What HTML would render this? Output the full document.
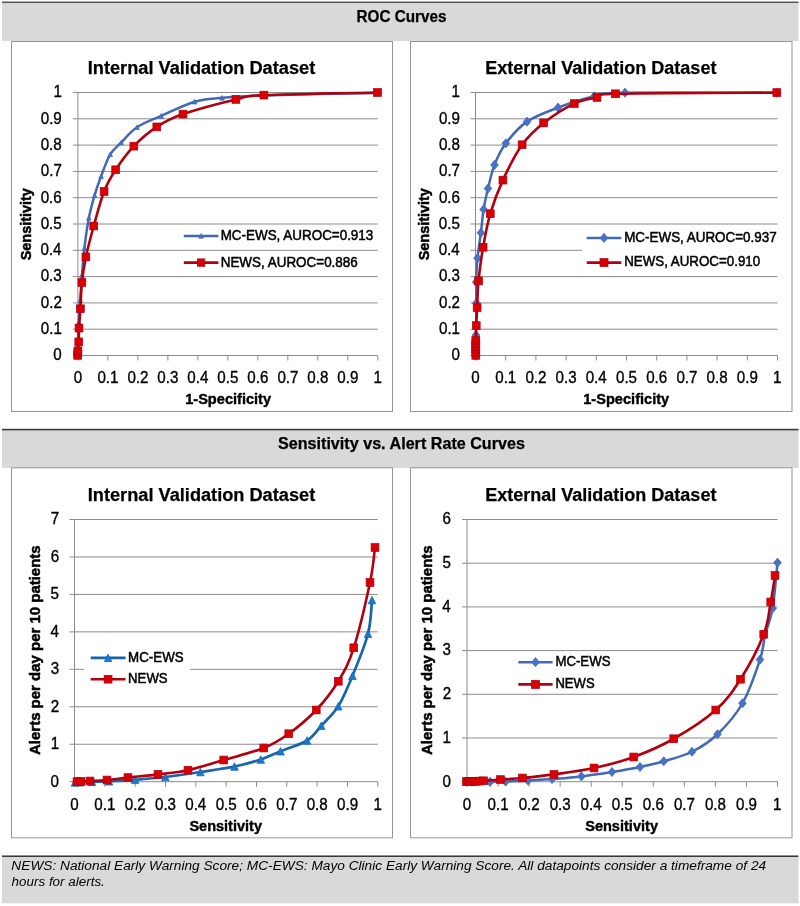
<!DOCTYPE html>
<html lang="en"><head><meta charset="utf-8"><title>ROC and Sensitivity vs. Alert Rate Curves</title>
<style>
html,body{margin:0;padding:0;background:#fff;}
body{width:800px;height:906px;overflow:hidden;font-family:"Liberation Sans",sans-serif;}
svg{display:block;will-change:transform;}
text{font-family:"Liberation Sans",sans-serif;}
</style></head><body>
<svg width="800" height="906" viewBox="0 0 800 906" font-family="Liberation Sans, sans-serif">
<rect x="0" y="0" width="800" height="906" fill="#fff"/>
<rect x="2" y="2.6" width="796.5" height="38.4" fill="#d9d9d9"/>
<rect x="2" y="1.6" width="796.5" height="1.25" fill="#383838"/>
<rect x="2" y="430" width="796.5" height="38" fill="#d9d9d9"/>
<rect x="2" y="428.8" width="796.5" height="1.55" fill="#383838"/>
<rect x="2" y="856.6" width="796.5" height="46.69999999999993" fill="#d9d9d9"/>
<rect x="2" y="855.45" width="796.5" height="1.55" fill="#383838"/>
<rect x="11.5" y="41.5" width="381.0" height="370.0" fill="#fff" stroke="#969696" stroke-width="1"/>
<rect x="410.5" y="41.5" width="381.5" height="370.0" fill="#fff" stroke="#969696" stroke-width="1"/>
<rect x="11.5" y="467.8" width="381.0" height="369.99999999999994" fill="#fff" stroke="#969696" stroke-width="1"/>
<rect x="410.5" y="467.8" width="381.5" height="369.99999999999994" fill="#fff" stroke="#969696" stroke-width="1"/>
<text x="356.58" y="21.50" font-size="16.9" font-weight="bold" stroke="#000" stroke-width="0.25" textLength="89.95" lengthAdjust="spacingAndGlyphs" fill="#000" >ROC Curves</text>
<text x="277.94" y="449.00" font-size="16.9" font-weight="bold" stroke="#000" stroke-width="0.25" textLength="247.02" lengthAdjust="spacingAndGlyphs" fill="#000" >Sensitivity vs. Alert Rate Curves</text>
<line x1="72.90" y1="355.50" x2="377.80" y2="355.50" stroke="#8c8c8c" stroke-width="1"/>
<line x1="72.90" y1="329.20" x2="377.80" y2="329.20" stroke="#8c8c8c" stroke-width="1"/>
<line x1="72.90" y1="302.90" x2="377.80" y2="302.90" stroke="#8c8c8c" stroke-width="1"/>
<line x1="72.90" y1="276.60" x2="377.80" y2="276.60" stroke="#8c8c8c" stroke-width="1"/>
<line x1="72.90" y1="250.30" x2="377.80" y2="250.30" stroke="#8c8c8c" stroke-width="1"/>
<line x1="72.90" y1="224.00" x2="377.80" y2="224.00" stroke="#8c8c8c" stroke-width="1"/>
<line x1="72.90" y1="197.70" x2="377.80" y2="197.70" stroke="#8c8c8c" stroke-width="1"/>
<line x1="72.90" y1="171.40" x2="377.80" y2="171.40" stroke="#8c8c8c" stroke-width="1"/>
<line x1="72.90" y1="145.10" x2="377.80" y2="145.10" stroke="#8c8c8c" stroke-width="1"/>
<line x1="72.90" y1="118.80" x2="377.80" y2="118.80" stroke="#8c8c8c" stroke-width="1"/>
<line x1="72.90" y1="92.50" x2="377.80" y2="92.50" stroke="#8c8c8c" stroke-width="1"/>
<line x1="77.90" y1="92.50" x2="77.90" y2="355.50" stroke="#8c8c8c" stroke-width="1"/>
<line x1="77.90" y1="355.50" x2="77.90" y2="360.50" stroke="#8c8c8c" stroke-width="1"/>
<line x1="107.89" y1="355.50" x2="107.89" y2="360.50" stroke="#8c8c8c" stroke-width="1"/>
<line x1="137.88" y1="355.50" x2="137.88" y2="360.50" stroke="#8c8c8c" stroke-width="1"/>
<line x1="167.87" y1="355.50" x2="167.87" y2="360.50" stroke="#8c8c8c" stroke-width="1"/>
<line x1="197.86" y1="355.50" x2="197.86" y2="360.50" stroke="#8c8c8c" stroke-width="1"/>
<line x1="227.85" y1="355.50" x2="227.85" y2="360.50" stroke="#8c8c8c" stroke-width="1"/>
<line x1="257.84" y1="355.50" x2="257.84" y2="360.50" stroke="#8c8c8c" stroke-width="1"/>
<line x1="287.83" y1="355.50" x2="287.83" y2="360.50" stroke="#8c8c8c" stroke-width="1"/>
<line x1="317.82" y1="355.50" x2="317.82" y2="360.50" stroke="#8c8c8c" stroke-width="1"/>
<line x1="347.81" y1="355.50" x2="347.81" y2="360.50" stroke="#8c8c8c" stroke-width="1"/>
<line x1="377.80" y1="355.50" x2="377.80" y2="360.50" stroke="#8c8c8c" stroke-width="1"/>
<text x="53.26" y="360.30" font-size="16.3" stroke="#000" stroke-width="0.35" textLength="8.43" lengthAdjust="spacingAndGlyphs" fill="#000" >0</text>
<text x="40.77" y="334.00" font-size="16.3" stroke="#000" stroke-width="0.35" textLength="21.07" lengthAdjust="spacingAndGlyphs" fill="#000" >0.1</text>
<text x="40.79" y="307.70" font-size="16.3" stroke="#000" stroke-width="0.35" textLength="21.07" lengthAdjust="spacingAndGlyphs" fill="#000" >0.2</text>
<text x="40.69" y="281.40" font-size="16.3" stroke="#000" stroke-width="0.35" textLength="21.07" lengthAdjust="spacingAndGlyphs" fill="#000" >0.3</text>
<text x="40.47" y="255.10" font-size="16.3" stroke="#000" stroke-width="0.35" textLength="21.07" lengthAdjust="spacingAndGlyphs" fill="#000" >0.4</text>
<text x="40.66" y="228.80" font-size="16.3" stroke="#000" stroke-width="0.35" textLength="21.07" lengthAdjust="spacingAndGlyphs" fill="#000" >0.5</text>
<text x="40.69" y="202.50" font-size="16.3" stroke="#000" stroke-width="0.35" textLength="21.07" lengthAdjust="spacingAndGlyphs" fill="#000" >0.6</text>
<text x="40.79" y="176.20" font-size="16.3" stroke="#000" stroke-width="0.35" textLength="21.07" lengthAdjust="spacingAndGlyphs" fill="#000" >0.7</text>
<text x="40.69" y="149.90" font-size="16.3" stroke="#000" stroke-width="0.35" textLength="21.07" lengthAdjust="spacingAndGlyphs" fill="#000" >0.8</text>
<text x="40.74" y="123.60" font-size="16.3" stroke="#000" stroke-width="0.35" textLength="21.07" lengthAdjust="spacingAndGlyphs" fill="#000" >0.9</text>
<text x="53.41" y="97.30" font-size="16.3" stroke="#000" stroke-width="0.35" textLength="8.43" lengthAdjust="spacingAndGlyphs" fill="#000" >1</text>
<text x="73.68" y="382.60" font-size="16.3" stroke="#000" stroke-width="0.35" textLength="8.43" lengthAdjust="spacingAndGlyphs" fill="#000" >0</text>
<text x="97.43" y="382.60" font-size="16.3" stroke="#000" stroke-width="0.35" textLength="21.07" lengthAdjust="spacingAndGlyphs" fill="#000" >0.1</text>
<text x="127.43" y="382.60" font-size="16.3" stroke="#000" stroke-width="0.35" textLength="21.07" lengthAdjust="spacingAndGlyphs" fill="#000" >0.2</text>
<text x="157.37" y="382.60" font-size="16.3" stroke="#000" stroke-width="0.35" textLength="21.07" lengthAdjust="spacingAndGlyphs" fill="#000" >0.3</text>
<text x="187.25" y="382.60" font-size="16.3" stroke="#000" stroke-width="0.35" textLength="21.07" lengthAdjust="spacingAndGlyphs" fill="#000" >0.4</text>
<text x="217.34" y="382.60" font-size="16.3" stroke="#000" stroke-width="0.35" textLength="21.07" lengthAdjust="spacingAndGlyphs" fill="#000" >0.5</text>
<text x="247.34" y="382.60" font-size="16.3" stroke="#000" stroke-width="0.35" textLength="21.07" lengthAdjust="spacingAndGlyphs" fill="#000" >0.6</text>
<text x="277.38" y="382.60" font-size="16.3" stroke="#000" stroke-width="0.35" textLength="21.07" lengthAdjust="spacingAndGlyphs" fill="#000" >0.7</text>
<text x="307.32" y="382.60" font-size="16.3" stroke="#000" stroke-width="0.35" textLength="21.07" lengthAdjust="spacingAndGlyphs" fill="#000" >0.8</text>
<text x="337.34" y="382.60" font-size="16.3" stroke="#000" stroke-width="0.35" textLength="21.07" lengthAdjust="spacingAndGlyphs" fill="#000" >0.9</text>
<text x="373.38" y="382.60" font-size="16.3" stroke="#000" stroke-width="0.35" textLength="8.43" lengthAdjust="spacingAndGlyphs" fill="#000" >1</text>
<text x="87.79" y="73.90" font-size="18.7" font-weight="bold" stroke="#000" stroke-width="0.25" textLength="227.43" lengthAdjust="spacingAndGlyphs" fill="#000" >Internal Validation Dataset</text>
<text x="185.18" y="403.70" font-size="15.0" font-weight="bold" stroke="#000" stroke-width="0.4" textLength="85.90" lengthAdjust="spacingAndGlyphs" fill="#000" >1-Specificity</text>
<g transform="translate(30.7,259.9) rotate(-90)">
<text x="-0.42" y="0.00" font-size="15.4" font-weight="bold" stroke="#000" stroke-width="0.5" textLength="72.19" lengthAdjust="spacingAndGlyphs" fill="#000" >Sensitivity</text>
</g>
<path d="M77.50,355.20 C77.58,352.67 77.78,345.53 78.00,340.00 C78.22,334.47 78.43,328.67 78.80,322.00 C79.17,315.33 79.67,307.83 80.20,300.00 C80.73,292.17 81.30,283.65 82.00,275.00 C82.70,266.35 83.25,257.63 84.40,248.10 C85.55,238.57 87.19,226.62 88.90,217.80 C90.61,208.98 92.62,202.12 94.65,195.20 C96.68,188.27 98.51,183.05 101.10,176.25 C103.69,169.45 106.84,160.03 110.20,154.40 C113.56,148.78 116.78,147.03 121.25,142.50 C125.72,137.97 130.34,131.68 137.00,127.25 C143.66,122.82 151.60,120.16 161.20,115.90 C170.80,111.64 184.47,104.71 194.60,101.70 C204.73,98.69 210.60,98.90 222.00,97.85 C233.40,96.80 237.08,96.23 263.00,95.40 C288.92,94.58 358.42,93.32 377.50,92.90" fill="none" stroke="#4169b8" stroke-width="2.5" stroke-linejoin="round" stroke-linecap="round"/>
<path d="M77.50,352.90 L79.80,357.50 L75.20,357.50Z" fill="#4673c6" stroke="#4169b8" stroke-width="0.7"/>
<path d="M78.00,337.70 L80.30,342.30 L75.70,342.30Z" fill="#4673c6" stroke="#4169b8" stroke-width="0.7"/>
<path d="M78.80,319.70 L81.10,324.30 L76.50,324.30Z" fill="#4673c6" stroke="#4169b8" stroke-width="0.7"/>
<path d="M80.20,297.70 L82.50,302.30 L77.90,302.30Z" fill="#4673c6" stroke="#4169b8" stroke-width="0.7"/>
<path d="M82.00,272.70 L84.30,277.30 L79.70,277.30Z" fill="#4673c6" stroke="#4169b8" stroke-width="0.7"/>
<path d="M84.40,245.80 L86.70,250.40 L82.10,250.40Z" fill="#4673c6" stroke="#4169b8" stroke-width="0.7"/>
<path d="M88.90,215.50 L91.20,220.10 L86.60,220.10Z" fill="#4673c6" stroke="#4169b8" stroke-width="0.7"/>
<path d="M94.65,192.90 L96.95,197.50 L92.35,197.50Z" fill="#4673c6" stroke="#4169b8" stroke-width="0.7"/>
<path d="M101.10,173.95 L103.40,178.55 L98.80,178.55Z" fill="#4673c6" stroke="#4169b8" stroke-width="0.7"/>
<path d="M110.20,152.10 L112.50,156.70 L107.90,156.70Z" fill="#4673c6" stroke="#4169b8" stroke-width="0.7"/>
<path d="M121.25,140.20 L123.55,144.80 L118.95,144.80Z" fill="#4673c6" stroke="#4169b8" stroke-width="0.7"/>
<path d="M137.00,124.95 L139.30,129.55 L134.70,129.55Z" fill="#4673c6" stroke="#4169b8" stroke-width="0.7"/>
<path d="M161.20,113.60 L163.50,118.20 L158.90,118.20Z" fill="#4673c6" stroke="#4169b8" stroke-width="0.7"/>
<path d="M194.60,99.40 L196.90,104.00 L192.30,104.00Z" fill="#4673c6" stroke="#4169b8" stroke-width="0.7"/>
<path d="M222.00,95.55 L224.30,100.15 L219.70,100.15Z" fill="#4673c6" stroke="#4169b8" stroke-width="0.7"/>
<path d="M263.00,93.10 L265.30,97.70 L260.70,97.70Z" fill="#4673c6" stroke="#4169b8" stroke-width="0.7"/>
<path d="M377.50,90.60 L379.80,95.20 L375.20,95.20Z" fill="#4673c6" stroke="#4169b8" stroke-width="0.7"/>
<path d="M77.70,355.40 C77.72,355.03 77.77,353.97 77.80,353.20 C77.83,352.43 77.74,352.68 77.90,350.80 C78.06,348.92 78.57,345.68 78.75,341.90 C78.93,338.12 78.72,333.62 79.00,328.10 C79.28,322.58 79.92,316.35 80.40,308.75 C80.88,301.15 80.98,291.14 81.90,282.50 C82.82,273.86 83.93,266.32 85.90,256.90 C87.88,247.48 90.72,236.90 93.75,226.00 C96.78,215.10 100.45,200.87 104.10,191.50 C107.75,182.13 110.69,177.36 115.65,169.80 C120.61,162.24 126.99,153.30 133.85,146.15 C140.71,139.00 148.61,132.24 156.80,126.90 C164.99,121.56 169.82,118.68 183.00,114.10 C196.18,109.52 222.42,102.57 235.90,99.40 C249.38,96.23 240.30,96.25 263.90,95.10 C287.50,93.95 358.57,92.93 377.50,92.50" fill="none" stroke="#b2000e" stroke-width="2.6" stroke-linejoin="round" stroke-linecap="round"/>
<rect x="73.80" y="351.50" width="7.8" height="7.8" fill="#d80004" stroke="#b2000e" stroke-width="0.7"/>
<rect x="73.90" y="349.30" width="7.8" height="7.8" fill="#d80004" stroke="#b2000e" stroke-width="0.7"/>
<rect x="74.00" y="346.90" width="7.8" height="7.8" fill="#d80004" stroke="#b2000e" stroke-width="0.7"/>
<rect x="74.85" y="338.00" width="7.8" height="7.8" fill="#d80004" stroke="#b2000e" stroke-width="0.7"/>
<rect x="75.10" y="324.20" width="7.8" height="7.8" fill="#d80004" stroke="#b2000e" stroke-width="0.7"/>
<rect x="76.50" y="304.85" width="7.8" height="7.8" fill="#d80004" stroke="#b2000e" stroke-width="0.7"/>
<rect x="78.00" y="278.60" width="7.8" height="7.8" fill="#d80004" stroke="#b2000e" stroke-width="0.7"/>
<rect x="82.00" y="253.00" width="7.8" height="7.8" fill="#d80004" stroke="#b2000e" stroke-width="0.7"/>
<rect x="89.85" y="222.10" width="7.8" height="7.8" fill="#d80004" stroke="#b2000e" stroke-width="0.7"/>
<rect x="100.20" y="187.60" width="7.8" height="7.8" fill="#d80004" stroke="#b2000e" stroke-width="0.7"/>
<rect x="111.75" y="165.90" width="7.8" height="7.8" fill="#d80004" stroke="#b2000e" stroke-width="0.7"/>
<rect x="129.95" y="142.25" width="7.8" height="7.8" fill="#d80004" stroke="#b2000e" stroke-width="0.7"/>
<rect x="152.90" y="123.00" width="7.8" height="7.8" fill="#d80004" stroke="#b2000e" stroke-width="0.7"/>
<rect x="179.10" y="110.20" width="7.8" height="7.8" fill="#d80004" stroke="#b2000e" stroke-width="0.7"/>
<rect x="232.00" y="95.50" width="7.8" height="7.8" fill="#d80004" stroke="#b2000e" stroke-width="0.7"/>
<rect x="260.00" y="91.20" width="7.8" height="7.8" fill="#d80004" stroke="#b2000e" stroke-width="0.7"/>
<rect x="373.60" y="88.60" width="7.8" height="7.8" fill="#d80004" stroke="#b2000e" stroke-width="0.7"/>
<line x1="183.8" y1="235.9" x2="218.4" y2="235.9" stroke="#4169b8" stroke-width="2.5"/>
<path d="M201.10,233.60 L203.40,238.20 L198.80,238.20Z" fill="#4673c6" stroke="#4169b8" stroke-width="0.7"/>
<line x1="183.8" y1="262.6" x2="218.4" y2="262.6" stroke="#b2000e" stroke-width="2.6"/>
<rect x="197.40" y="258.90" width="7.4" height="7.4" fill="#d80004" stroke="#b2000e" stroke-width="0.7"/>
<text x="220.70" y="239.90" font-size="14.2" stroke="#000" stroke-width="0.5" textLength="152.58" lengthAdjust="spacingAndGlyphs" fill="#000" >MC-EWS, AUROC=0.913</text>
<text x="220.70" y="266.80" font-size="14.2" stroke="#000" stroke-width="0.5" textLength="137.08" lengthAdjust="spacingAndGlyphs" fill="#000" >NEWS, AUROC=0.886</text>
<line x1="470.50" y1="355.50" x2="777.50" y2="355.50" stroke="#8c8c8c" stroke-width="1"/>
<line x1="470.50" y1="329.20" x2="777.50" y2="329.20" stroke="#8c8c8c" stroke-width="1"/>
<line x1="470.50" y1="302.90" x2="777.50" y2="302.90" stroke="#8c8c8c" stroke-width="1"/>
<line x1="470.50" y1="276.60" x2="777.50" y2="276.60" stroke="#8c8c8c" stroke-width="1"/>
<line x1="470.50" y1="250.30" x2="777.50" y2="250.30" stroke="#8c8c8c" stroke-width="1"/>
<line x1="470.50" y1="224.00" x2="777.50" y2="224.00" stroke="#8c8c8c" stroke-width="1"/>
<line x1="470.50" y1="197.70" x2="777.50" y2="197.70" stroke="#8c8c8c" stroke-width="1"/>
<line x1="470.50" y1="171.40" x2="777.50" y2="171.40" stroke="#8c8c8c" stroke-width="1"/>
<line x1="470.50" y1="145.10" x2="777.50" y2="145.10" stroke="#8c8c8c" stroke-width="1"/>
<line x1="470.50" y1="118.80" x2="777.50" y2="118.80" stroke="#8c8c8c" stroke-width="1"/>
<line x1="470.50" y1="92.50" x2="777.50" y2="92.50" stroke="#8c8c8c" stroke-width="1"/>
<line x1="475.50" y1="92.50" x2="475.50" y2="355.50" stroke="#8c8c8c" stroke-width="1"/>
<line x1="475.50" y1="355.50" x2="475.50" y2="360.50" stroke="#8c8c8c" stroke-width="1"/>
<line x1="505.70" y1="355.50" x2="505.70" y2="360.50" stroke="#8c8c8c" stroke-width="1"/>
<line x1="535.90" y1="355.50" x2="535.90" y2="360.50" stroke="#8c8c8c" stroke-width="1"/>
<line x1="566.10" y1="355.50" x2="566.10" y2="360.50" stroke="#8c8c8c" stroke-width="1"/>
<line x1="596.30" y1="355.50" x2="596.30" y2="360.50" stroke="#8c8c8c" stroke-width="1"/>
<line x1="626.50" y1="355.50" x2="626.50" y2="360.50" stroke="#8c8c8c" stroke-width="1"/>
<line x1="656.70" y1="355.50" x2="656.70" y2="360.50" stroke="#8c8c8c" stroke-width="1"/>
<line x1="686.90" y1="355.50" x2="686.90" y2="360.50" stroke="#8c8c8c" stroke-width="1"/>
<line x1="717.10" y1="355.50" x2="717.10" y2="360.50" stroke="#8c8c8c" stroke-width="1"/>
<line x1="747.30" y1="355.50" x2="747.30" y2="360.50" stroke="#8c8c8c" stroke-width="1"/>
<line x1="777.50" y1="355.50" x2="777.50" y2="360.50" stroke="#8c8c8c" stroke-width="1"/>
<text x="451.46" y="360.30" font-size="16.3" stroke="#000" stroke-width="0.35" textLength="8.43" lengthAdjust="spacingAndGlyphs" fill="#000" >0</text>
<text x="438.97" y="334.00" font-size="16.3" stroke="#000" stroke-width="0.35" textLength="21.07" lengthAdjust="spacingAndGlyphs" fill="#000" >0.1</text>
<text x="438.99" y="307.70" font-size="16.3" stroke="#000" stroke-width="0.35" textLength="21.07" lengthAdjust="spacingAndGlyphs" fill="#000" >0.2</text>
<text x="438.89" y="281.40" font-size="16.3" stroke="#000" stroke-width="0.35" textLength="21.07" lengthAdjust="spacingAndGlyphs" fill="#000" >0.3</text>
<text x="438.67" y="255.10" font-size="16.3" stroke="#000" stroke-width="0.35" textLength="21.07" lengthAdjust="spacingAndGlyphs" fill="#000" >0.4</text>
<text x="438.86" y="228.80" font-size="16.3" stroke="#000" stroke-width="0.35" textLength="21.07" lengthAdjust="spacingAndGlyphs" fill="#000" >0.5</text>
<text x="438.89" y="202.50" font-size="16.3" stroke="#000" stroke-width="0.35" textLength="21.07" lengthAdjust="spacingAndGlyphs" fill="#000" >0.6</text>
<text x="438.99" y="176.20" font-size="16.3" stroke="#000" stroke-width="0.35" textLength="21.07" lengthAdjust="spacingAndGlyphs" fill="#000" >0.7</text>
<text x="438.89" y="149.90" font-size="16.3" stroke="#000" stroke-width="0.35" textLength="21.07" lengthAdjust="spacingAndGlyphs" fill="#000" >0.8</text>
<text x="438.94" y="123.60" font-size="16.3" stroke="#000" stroke-width="0.35" textLength="21.07" lengthAdjust="spacingAndGlyphs" fill="#000" >0.9</text>
<text x="451.61" y="97.30" font-size="16.3" stroke="#000" stroke-width="0.35" textLength="8.43" lengthAdjust="spacingAndGlyphs" fill="#000" >1</text>
<text x="471.28" y="382.60" font-size="16.3" stroke="#000" stroke-width="0.35" textLength="8.43" lengthAdjust="spacingAndGlyphs" fill="#000" >0</text>
<text x="495.24" y="382.60" font-size="16.3" stroke="#000" stroke-width="0.35" textLength="21.07" lengthAdjust="spacingAndGlyphs" fill="#000" >0.1</text>
<text x="525.45" y="382.60" font-size="16.3" stroke="#000" stroke-width="0.35" textLength="21.07" lengthAdjust="spacingAndGlyphs" fill="#000" >0.2</text>
<text x="555.60" y="382.60" font-size="16.3" stroke="#000" stroke-width="0.35" textLength="21.07" lengthAdjust="spacingAndGlyphs" fill="#000" >0.3</text>
<text x="585.69" y="382.60" font-size="16.3" stroke="#000" stroke-width="0.35" textLength="21.07" lengthAdjust="spacingAndGlyphs" fill="#000" >0.4</text>
<text x="615.99" y="382.60" font-size="16.3" stroke="#000" stroke-width="0.35" textLength="21.07" lengthAdjust="spacingAndGlyphs" fill="#000" >0.5</text>
<text x="646.20" y="382.60" font-size="16.3" stroke="#000" stroke-width="0.35" textLength="21.07" lengthAdjust="spacingAndGlyphs" fill="#000" >0.6</text>
<text x="676.45" y="382.60" font-size="16.3" stroke="#000" stroke-width="0.35" textLength="21.07" lengthAdjust="spacingAndGlyphs" fill="#000" >0.7</text>
<text x="706.60" y="382.60" font-size="16.3" stroke="#000" stroke-width="0.35" textLength="21.07" lengthAdjust="spacingAndGlyphs" fill="#000" >0.8</text>
<text x="736.83" y="382.60" font-size="16.3" stroke="#000" stroke-width="0.35" textLength="21.07" lengthAdjust="spacingAndGlyphs" fill="#000" >0.9</text>
<text x="773.08" y="382.60" font-size="16.3" stroke="#000" stroke-width="0.35" textLength="8.43" lengthAdjust="spacingAndGlyphs" fill="#000" >1</text>
<text x="485.20" y="73.90" font-size="18.7" font-weight="bold" stroke="#000" stroke-width="0.25" textLength="231.22" lengthAdjust="spacingAndGlyphs" fill="#000" >External Validation Dataset</text>
<text x="583.28" y="403.70" font-size="15.0" font-weight="bold" stroke="#000" stroke-width="0.4" textLength="85.90" lengthAdjust="spacingAndGlyphs" fill="#000" >1-Specificity</text>
<g transform="translate(428.7,259.9) rotate(-90)">
<text x="-0.42" y="0.00" font-size="15.4" font-weight="bold" stroke="#000" stroke-width="0.5" textLength="72.19" lengthAdjust="spacingAndGlyphs" fill="#000" >Sensitivity</text>
</g>
<rect x="582" y="227" width="197" height="47" fill="#fff"/>
<path d="M476.00,355.50 C476.00,352.08 475.93,343.75 476.00,335.00 C476.07,326.25 476.37,311.83 476.40,303.00 C476.43,294.17 476.02,289.48 476.20,282.00 C476.38,274.52 476.72,266.31 477.50,258.10 C478.28,249.89 479.88,240.87 480.90,232.75 C481.92,224.63 482.42,216.78 483.60,209.40 C484.78,202.03 486.18,195.92 488.00,188.50 C489.82,181.08 491.52,172.43 494.50,164.90 C497.48,157.38 500.43,150.56 505.85,143.35 C511.27,136.14 518.31,127.60 527.00,121.65 C535.69,115.70 546.78,111.88 558.00,107.65 C569.22,103.43 583.13,98.79 594.30,96.30 C605.47,93.81 594.55,93.28 625.00,92.70 C655.45,92.12 751.67,92.78 777.00,92.80" fill="none" stroke="#4169b8" stroke-width="2.5" stroke-linejoin="round" stroke-linecap="round"/>
<path d="M476.00,350.90 L479.86,355.50 L476.00,360.10 L472.14,355.50Z" fill="#4673c6" stroke="#4169b8" stroke-width="0.7"/>
<path d="M476.00,330.40 L479.86,335.00 L476.00,339.60 L472.14,335.00Z" fill="#4673c6" stroke="#4169b8" stroke-width="0.7"/>
<path d="M476.40,298.40 L480.26,303.00 L476.40,307.60 L472.54,303.00Z" fill="#4673c6" stroke="#4169b8" stroke-width="0.7"/>
<path d="M476.20,277.40 L480.06,282.00 L476.20,286.60 L472.34,282.00Z" fill="#4673c6" stroke="#4169b8" stroke-width="0.7"/>
<path d="M477.50,253.50 L481.36,258.10 L477.50,262.70 L473.64,258.10Z" fill="#4673c6" stroke="#4169b8" stroke-width="0.7"/>
<path d="M480.90,228.15 L484.76,232.75 L480.90,237.35 L477.04,232.75Z" fill="#4673c6" stroke="#4169b8" stroke-width="0.7"/>
<path d="M483.60,204.80 L487.46,209.40 L483.60,214.00 L479.74,209.40Z" fill="#4673c6" stroke="#4169b8" stroke-width="0.7"/>
<path d="M488.00,183.90 L491.86,188.50 L488.00,193.10 L484.14,188.50Z" fill="#4673c6" stroke="#4169b8" stroke-width="0.7"/>
<path d="M494.50,160.30 L498.36,164.90 L494.50,169.50 L490.64,164.90Z" fill="#4673c6" stroke="#4169b8" stroke-width="0.7"/>
<path d="M505.85,138.75 L509.71,143.35 L505.85,147.95 L501.99,143.35Z" fill="#4673c6" stroke="#4169b8" stroke-width="0.7"/>
<path d="M527.00,117.05 L530.86,121.65 L527.00,126.25 L523.14,121.65Z" fill="#4673c6" stroke="#4169b8" stroke-width="0.7"/>
<path d="M558.00,103.05 L561.86,107.65 L558.00,112.25 L554.14,107.65Z" fill="#4673c6" stroke="#4169b8" stroke-width="0.7"/>
<path d="M594.30,91.70 L598.16,96.30 L594.30,100.90 L590.44,96.30Z" fill="#4673c6" stroke="#4169b8" stroke-width="0.7"/>
<path d="M625.00,88.10 L628.86,92.70 L625.00,97.30 L621.14,92.70Z" fill="#4673c6" stroke="#4169b8" stroke-width="0.7"/>
<path d="M777.00,88.20 L780.86,92.80 L777.00,97.40 L773.14,92.80Z" fill="#4673c6" stroke="#4169b8" stroke-width="0.7"/>
<path d="M475.80,355.40 C475.80,354.92 475.80,353.48 475.80,352.50 C475.80,351.52 475.80,350.50 475.80,349.50 C475.80,348.50 475.80,347.50 475.80,346.50 C475.80,345.50 475.80,344.50 475.80,343.50 C475.80,342.50 475.73,343.48 475.80,340.50 C475.88,337.52 476.03,331.08 476.25,325.60 C476.47,320.12 476.73,315.05 477.10,307.60 C477.48,300.15 477.50,290.96 478.50,280.90 C479.50,270.84 481.13,258.45 483.10,247.25 C485.07,236.05 487.00,224.89 490.30,213.70 C493.60,202.51 497.60,191.59 502.90,180.10 C508.20,168.61 515.31,154.28 522.10,144.75 C528.89,135.22 534.95,129.76 543.65,122.90 C552.35,116.04 565.41,107.85 574.30,103.60 C583.19,99.35 590.13,99.03 597.00,97.40 C603.87,95.77 585.53,94.60 615.50,93.80 C645.47,93.00 749.92,92.80 776.80,92.60" fill="none" stroke="#b2000e" stroke-width="2.6" stroke-linejoin="round" stroke-linecap="round"/>
<rect x="471.90" y="351.50" width="7.8" height="7.8" fill="#d80004" stroke="#b2000e" stroke-width="0.7"/>
<rect x="471.90" y="348.60" width="7.8" height="7.8" fill="#d80004" stroke="#b2000e" stroke-width="0.7"/>
<rect x="471.90" y="345.60" width="7.8" height="7.8" fill="#d80004" stroke="#b2000e" stroke-width="0.7"/>
<rect x="471.90" y="342.60" width="7.8" height="7.8" fill="#d80004" stroke="#b2000e" stroke-width="0.7"/>
<rect x="471.90" y="339.60" width="7.8" height="7.8" fill="#d80004" stroke="#b2000e" stroke-width="0.7"/>
<rect x="471.90" y="336.60" width="7.8" height="7.8" fill="#d80004" stroke="#b2000e" stroke-width="0.7"/>
<rect x="472.35" y="321.70" width="7.8" height="7.8" fill="#d80004" stroke="#b2000e" stroke-width="0.7"/>
<rect x="473.20" y="303.70" width="7.8" height="7.8" fill="#d80004" stroke="#b2000e" stroke-width="0.7"/>
<rect x="474.60" y="277.00" width="7.8" height="7.8" fill="#d80004" stroke="#b2000e" stroke-width="0.7"/>
<rect x="479.20" y="243.35" width="7.8" height="7.8" fill="#d80004" stroke="#b2000e" stroke-width="0.7"/>
<rect x="486.40" y="209.80" width="7.8" height="7.8" fill="#d80004" stroke="#b2000e" stroke-width="0.7"/>
<rect x="499.00" y="176.20" width="7.8" height="7.8" fill="#d80004" stroke="#b2000e" stroke-width="0.7"/>
<rect x="518.20" y="140.85" width="7.8" height="7.8" fill="#d80004" stroke="#b2000e" stroke-width="0.7"/>
<rect x="539.75" y="119.00" width="7.8" height="7.8" fill="#d80004" stroke="#b2000e" stroke-width="0.7"/>
<rect x="570.40" y="99.70" width="7.8" height="7.8" fill="#d80004" stroke="#b2000e" stroke-width="0.7"/>
<rect x="593.10" y="93.50" width="7.8" height="7.8" fill="#d80004" stroke="#b2000e" stroke-width="0.7"/>
<rect x="611.60" y="89.90" width="7.8" height="7.8" fill="#d80004" stroke="#b2000e" stroke-width="0.7"/>
<rect x="772.90" y="88.70" width="7.8" height="7.8" fill="#d80004" stroke="#b2000e" stroke-width="0.7"/>
<line x1="586.7" y1="237.9" x2="621.3" y2="237.9" stroke="#4169b8" stroke-width="2.5"/>
<path d="M604.00,233.30 L607.86,237.90 L604.00,242.50 L600.14,237.90Z" fill="#4673c6" stroke="#4169b8" stroke-width="0.7"/>
<line x1="586.7" y1="262.6" x2="621.3" y2="262.6" stroke="#b2000e" stroke-width="2.6"/>
<rect x="600.00" y="258.60" width="8.0" height="8.0" fill="#d80004" stroke="#b2000e" stroke-width="0.7"/>
<text x="624.20" y="241.60" font-size="14.2" stroke="#000" stroke-width="0.5" textLength="152.47" lengthAdjust="spacingAndGlyphs" fill="#000" >MC-EWS, AUROC=0.937</text>
<text x="624.21" y="266.40" font-size="14.2" stroke="#000" stroke-width="0.5" textLength="135.91" lengthAdjust="spacingAndGlyphs" fill="#000" >NEWS, AUROC=0.910</text>
<line x1="69.50" y1="781.70" x2="377.80" y2="781.70" stroke="#8c8c8c" stroke-width="1"/>
<line x1="69.50" y1="744.24" x2="377.80" y2="744.24" stroke="#8c8c8c" stroke-width="1"/>
<line x1="69.50" y1="706.79" x2="377.80" y2="706.79" stroke="#8c8c8c" stroke-width="1"/>
<line x1="69.50" y1="669.33" x2="377.80" y2="669.33" stroke="#8c8c8c" stroke-width="1"/>
<line x1="69.50" y1="631.87" x2="377.80" y2="631.87" stroke="#8c8c8c" stroke-width="1"/>
<line x1="69.50" y1="594.41" x2="377.80" y2="594.41" stroke="#8c8c8c" stroke-width="1"/>
<line x1="69.50" y1="556.96" x2="377.80" y2="556.96" stroke="#8c8c8c" stroke-width="1"/>
<line x1="69.50" y1="519.50" x2="377.80" y2="519.50" stroke="#8c8c8c" stroke-width="1"/>
<line x1="74.50" y1="519.50" x2="74.50" y2="781.70" stroke="#8c8c8c" stroke-width="1"/>
<line x1="74.50" y1="781.70" x2="74.50" y2="786.70" stroke="#8c8c8c" stroke-width="1"/>
<line x1="104.83" y1="781.70" x2="104.83" y2="786.70" stroke="#8c8c8c" stroke-width="1"/>
<line x1="135.16" y1="781.70" x2="135.16" y2="786.70" stroke="#8c8c8c" stroke-width="1"/>
<line x1="165.49" y1="781.70" x2="165.49" y2="786.70" stroke="#8c8c8c" stroke-width="1"/>
<line x1="195.82" y1="781.70" x2="195.82" y2="786.70" stroke="#8c8c8c" stroke-width="1"/>
<line x1="226.15" y1="781.70" x2="226.15" y2="786.70" stroke="#8c8c8c" stroke-width="1"/>
<line x1="256.48" y1="781.70" x2="256.48" y2="786.70" stroke="#8c8c8c" stroke-width="1"/>
<line x1="286.81" y1="781.70" x2="286.81" y2="786.70" stroke="#8c8c8c" stroke-width="1"/>
<line x1="317.14" y1="781.70" x2="317.14" y2="786.70" stroke="#8c8c8c" stroke-width="1"/>
<line x1="347.47" y1="781.70" x2="347.47" y2="786.70" stroke="#8c8c8c" stroke-width="1"/>
<line x1="377.80" y1="781.70" x2="377.80" y2="786.70" stroke="#8c8c8c" stroke-width="1"/>
<text x="50.56" y="786.50" font-size="16.3" stroke="#000" stroke-width="0.35" textLength="8.43" lengthAdjust="spacingAndGlyphs" fill="#000" >0</text>
<text x="50.71" y="749.04" font-size="16.3" stroke="#000" stroke-width="0.35" textLength="8.43" lengthAdjust="spacingAndGlyphs" fill="#000" >1</text>
<text x="50.73" y="711.59" font-size="16.3" stroke="#000" stroke-width="0.35" textLength="8.43" lengthAdjust="spacingAndGlyphs" fill="#000" >2</text>
<text x="50.64" y="674.13" font-size="16.3" stroke="#000" stroke-width="0.35" textLength="8.43" lengthAdjust="spacingAndGlyphs" fill="#000" >3</text>
<text x="50.41" y="636.67" font-size="16.3" stroke="#000" stroke-width="0.35" textLength="8.43" lengthAdjust="spacingAndGlyphs" fill="#000" >4</text>
<text x="50.61" y="599.21" font-size="16.3" stroke="#000" stroke-width="0.35" textLength="8.43" lengthAdjust="spacingAndGlyphs" fill="#000" >5</text>
<text x="50.64" y="561.76" font-size="16.3" stroke="#000" stroke-width="0.35" textLength="8.43" lengthAdjust="spacingAndGlyphs" fill="#000" >6</text>
<text x="50.73" y="524.30" font-size="16.3" stroke="#000" stroke-width="0.35" textLength="8.43" lengthAdjust="spacingAndGlyphs" fill="#000" >7</text>
<text x="70.28" y="809.60" font-size="16.3" stroke="#000" stroke-width="0.35" textLength="8.43" lengthAdjust="spacingAndGlyphs" fill="#000" >0</text>
<text x="94.37" y="809.60" font-size="16.3" stroke="#000" stroke-width="0.35" textLength="21.07" lengthAdjust="spacingAndGlyphs" fill="#000" >0.1</text>
<text x="124.71" y="809.60" font-size="16.3" stroke="#000" stroke-width="0.35" textLength="21.07" lengthAdjust="spacingAndGlyphs" fill="#000" >0.2</text>
<text x="154.99" y="809.60" font-size="16.3" stroke="#000" stroke-width="0.35" textLength="21.07" lengthAdjust="spacingAndGlyphs" fill="#000" >0.3</text>
<text x="185.21" y="809.60" font-size="16.3" stroke="#000" stroke-width="0.35" textLength="21.07" lengthAdjust="spacingAndGlyphs" fill="#000" >0.4</text>
<text x="215.64" y="809.60" font-size="16.3" stroke="#000" stroke-width="0.35" textLength="21.07" lengthAdjust="spacingAndGlyphs" fill="#000" >0.5</text>
<text x="245.98" y="809.60" font-size="16.3" stroke="#000" stroke-width="0.35" textLength="21.07" lengthAdjust="spacingAndGlyphs" fill="#000" >0.6</text>
<text x="276.36" y="809.60" font-size="16.3" stroke="#000" stroke-width="0.35" textLength="21.07" lengthAdjust="spacingAndGlyphs" fill="#000" >0.7</text>
<text x="306.64" y="809.60" font-size="16.3" stroke="#000" stroke-width="0.35" textLength="21.07" lengthAdjust="spacingAndGlyphs" fill="#000" >0.8</text>
<text x="337.00" y="809.60" font-size="16.3" stroke="#000" stroke-width="0.35" textLength="21.07" lengthAdjust="spacingAndGlyphs" fill="#000" >0.9</text>
<text x="373.38" y="809.60" font-size="16.3" stroke="#000" stroke-width="0.35" textLength="8.43" lengthAdjust="spacingAndGlyphs" fill="#000" >1</text>
<text x="87.79" y="500.60" font-size="18.7" font-weight="bold" stroke="#000" stroke-width="0.25" textLength="227.43" lengthAdjust="spacingAndGlyphs" fill="#000" >Internal Validation Dataset</text>
<text x="189.38" y="830.50" font-size="15.0" font-weight="bold" stroke="#000" stroke-width="0.4" textLength="72.60" lengthAdjust="spacingAndGlyphs" fill="#000" >Sensitivity</text>
<path d="M75.00,782.40 C75.83,782.38 77.17,782.38 80.00,782.30 C82.83,782.22 87.17,782.07 92.00,781.90 C96.83,781.73 101.83,781.65 109.00,781.30 C116.17,780.95 125.60,780.52 135.00,779.80 C144.40,779.08 154.50,778.30 165.40,777.00 C176.30,775.70 188.88,773.75 200.40,772.00 C211.92,770.25 224.44,768.58 234.50,766.50 C244.56,764.42 253.08,762.04 260.75,759.50 C268.42,756.96 272.79,754.42 280.50,751.25 C288.21,748.08 300.21,744.75 307.00,740.50 C313.79,736.25 316.04,731.46 321.25,725.75 C326.46,720.04 333.04,714.58 338.25,706.25 C343.46,697.92 347.54,687.83 352.50,675.75 C357.46,663.67 364.75,646.38 368.00,633.75 C371.25,621.12 371.33,605.62 372.00,600.00" fill="none" stroke="#1766ab" stroke-width="2.7" stroke-linejoin="round" stroke-linecap="round"/>
<path d="M75.00,778.60 L78.80,786.20 L71.20,786.20Z" fill="#1878ca" stroke="#1766ab" stroke-width="0.7"/>
<path d="M80.00,778.50 L83.80,786.10 L76.20,786.10Z" fill="#1878ca" stroke="#1766ab" stroke-width="0.7"/>
<path d="M92.00,778.10 L95.80,785.70 L88.20,785.70Z" fill="#1878ca" stroke="#1766ab" stroke-width="0.7"/>
<path d="M109.00,777.50 L112.80,785.10 L105.20,785.10Z" fill="#1878ca" stroke="#1766ab" stroke-width="0.7"/>
<path d="M135.00,776.00 L138.80,783.60 L131.20,783.60Z" fill="#1878ca" stroke="#1766ab" stroke-width="0.7"/>
<path d="M165.40,773.20 L169.20,780.80 L161.60,780.80Z" fill="#1878ca" stroke="#1766ab" stroke-width="0.7"/>
<path d="M200.40,768.20 L204.20,775.80 L196.60,775.80Z" fill="#1878ca" stroke="#1766ab" stroke-width="0.7"/>
<path d="M234.50,762.70 L238.30,770.30 L230.70,770.30Z" fill="#1878ca" stroke="#1766ab" stroke-width="0.7"/>
<path d="M260.75,755.70 L264.55,763.30 L256.95,763.30Z" fill="#1878ca" stroke="#1766ab" stroke-width="0.7"/>
<path d="M280.50,747.45 L284.30,755.05 L276.70,755.05Z" fill="#1878ca" stroke="#1766ab" stroke-width="0.7"/>
<path d="M307.00,736.70 L310.80,744.30 L303.20,744.30Z" fill="#1878ca" stroke="#1766ab" stroke-width="0.7"/>
<path d="M321.25,721.95 L325.05,729.55 L317.45,729.55Z" fill="#1878ca" stroke="#1766ab" stroke-width="0.7"/>
<path d="M338.25,702.45 L342.05,710.05 L334.45,710.05Z" fill="#1878ca" stroke="#1766ab" stroke-width="0.7"/>
<path d="M352.50,671.95 L356.30,679.55 L348.70,679.55Z" fill="#1878ca" stroke="#1766ab" stroke-width="0.7"/>
<path d="M368.00,629.95 L371.80,637.55 L364.20,637.55Z" fill="#1878ca" stroke="#1766ab" stroke-width="0.7"/>
<path d="M372.00,596.20 L375.80,603.80 L368.20,603.80Z" fill="#1878ca" stroke="#1766ab" stroke-width="0.7"/>
<path d="M77.00,781.60 C77.67,781.58 78.83,781.60 81.00,781.50 C83.17,781.40 85.67,781.25 90.00,781.00 C94.33,780.75 100.67,780.57 107.00,780.00 C113.33,779.43 119.50,778.53 128.00,777.60 C136.50,776.67 148.00,775.63 158.00,774.40 C168.00,773.17 177.04,772.60 188.00,770.20 C198.96,767.80 211.12,763.70 223.75,760.00 C236.38,756.30 252.92,752.38 263.75,748.00 C274.58,743.62 280.00,740.08 288.75,733.75 C297.50,727.42 308.00,718.75 316.25,710.00 C324.50,701.25 332.00,691.62 338.25,681.25 C344.50,670.88 348.46,664.26 353.75,647.80 C359.04,631.34 366.46,599.22 370.00,582.50 C373.54,565.78 374.17,553.33 375.00,547.50" fill="none" stroke="#b2000e" stroke-width="2.6" stroke-linejoin="round" stroke-linecap="round"/>
<rect x="73.10" y="777.70" width="7.8" height="7.8" fill="#d80004" stroke="#b2000e" stroke-width="0.7"/>
<rect x="77.10" y="777.60" width="7.8" height="7.8" fill="#d80004" stroke="#b2000e" stroke-width="0.7"/>
<rect x="86.10" y="777.10" width="7.8" height="7.8" fill="#d80004" stroke="#b2000e" stroke-width="0.7"/>
<rect x="103.10" y="776.10" width="7.8" height="7.8" fill="#d80004" stroke="#b2000e" stroke-width="0.7"/>
<rect x="124.10" y="773.70" width="7.8" height="7.8" fill="#d80004" stroke="#b2000e" stroke-width="0.7"/>
<rect x="154.10" y="770.50" width="7.8" height="7.8" fill="#d80004" stroke="#b2000e" stroke-width="0.7"/>
<rect x="184.10" y="766.30" width="7.8" height="7.8" fill="#d80004" stroke="#b2000e" stroke-width="0.7"/>
<rect x="219.85" y="756.10" width="7.8" height="7.8" fill="#d80004" stroke="#b2000e" stroke-width="0.7"/>
<rect x="259.85" y="744.10" width="7.8" height="7.8" fill="#d80004" stroke="#b2000e" stroke-width="0.7"/>
<rect x="284.85" y="729.85" width="7.8" height="7.8" fill="#d80004" stroke="#b2000e" stroke-width="0.7"/>
<rect x="312.35" y="706.10" width="7.8" height="7.8" fill="#d80004" stroke="#b2000e" stroke-width="0.7"/>
<rect x="334.35" y="677.35" width="7.8" height="7.8" fill="#d80004" stroke="#b2000e" stroke-width="0.7"/>
<rect x="349.85" y="643.90" width="7.8" height="7.8" fill="#d80004" stroke="#b2000e" stroke-width="0.7"/>
<rect x="366.10" y="578.60" width="7.8" height="7.8" fill="#d80004" stroke="#b2000e" stroke-width="0.7"/>
<rect x="371.10" y="543.60" width="7.8" height="7.8" fill="#d80004" stroke="#b2000e" stroke-width="0.7"/>
<rect x="84" y="646" width="106" height="46" fill="#fff"/>
<line x1="90.7" y1="657.9" x2="125.5" y2="657.9" stroke="#1766ab" stroke-width="2.7"/>
<path d="M108.10,654.10 L111.90,661.70 L104.30,661.70Z" fill="#1878ca" stroke="#1766ab" stroke-width="0.7"/>
<line x1="90.7" y1="679.2" x2="125.5" y2="679.2" stroke="#b2000e" stroke-width="2.6"/>
<rect x="104.20" y="675.30" width="7.8" height="7.8" fill="#d80004" stroke="#b2000e" stroke-width="0.7"/>
<text x="128.11" y="661.70" font-size="14.2" stroke="#000" stroke-width="0.5" textLength="55.50" lengthAdjust="spacingAndGlyphs" fill="#000" >MC-EWS</text>
<text x="128.12" y="683.40" font-size="14.2" stroke="#000" stroke-width="0.5" textLength="39.48" lengthAdjust="spacingAndGlyphs" fill="#000" >NEWS</text>
<line x1="462.00" y1="781.70" x2="777.50" y2="781.70" stroke="#8c8c8c" stroke-width="1"/>
<line x1="462.00" y1="738.00" x2="777.50" y2="738.00" stroke="#8c8c8c" stroke-width="1"/>
<line x1="462.00" y1="694.30" x2="777.50" y2="694.30" stroke="#8c8c8c" stroke-width="1"/>
<line x1="462.00" y1="650.60" x2="777.50" y2="650.60" stroke="#8c8c8c" stroke-width="1"/>
<line x1="462.00" y1="606.90" x2="777.50" y2="606.90" stroke="#8c8c8c" stroke-width="1"/>
<line x1="462.00" y1="563.20" x2="777.50" y2="563.20" stroke="#8c8c8c" stroke-width="1"/>
<line x1="462.00" y1="519.50" x2="777.50" y2="519.50" stroke="#8c8c8c" stroke-width="1"/>
<line x1="467.00" y1="519.50" x2="467.00" y2="781.70" stroke="#8c8c8c" stroke-width="1"/>
<line x1="467.00" y1="781.70" x2="467.00" y2="786.70" stroke="#8c8c8c" stroke-width="1"/>
<line x1="498.05" y1="781.70" x2="498.05" y2="786.70" stroke="#8c8c8c" stroke-width="1"/>
<line x1="529.10" y1="781.70" x2="529.10" y2="786.70" stroke="#8c8c8c" stroke-width="1"/>
<line x1="560.15" y1="781.70" x2="560.15" y2="786.70" stroke="#8c8c8c" stroke-width="1"/>
<line x1="591.20" y1="781.70" x2="591.20" y2="786.70" stroke="#8c8c8c" stroke-width="1"/>
<line x1="622.25" y1="781.70" x2="622.25" y2="786.70" stroke="#8c8c8c" stroke-width="1"/>
<line x1="653.30" y1="781.70" x2="653.30" y2="786.70" stroke="#8c8c8c" stroke-width="1"/>
<line x1="684.35" y1="781.70" x2="684.35" y2="786.70" stroke="#8c8c8c" stroke-width="1"/>
<line x1="715.40" y1="781.70" x2="715.40" y2="786.70" stroke="#8c8c8c" stroke-width="1"/>
<line x1="746.45" y1="781.70" x2="746.45" y2="786.70" stroke="#8c8c8c" stroke-width="1"/>
<line x1="777.50" y1="781.70" x2="777.50" y2="786.70" stroke="#8c8c8c" stroke-width="1"/>
<text x="442.46" y="786.50" font-size="16.3" stroke="#000" stroke-width="0.35" textLength="8.43" lengthAdjust="spacingAndGlyphs" fill="#000" >0</text>
<text x="442.61" y="742.80" font-size="16.3" stroke="#000" stroke-width="0.35" textLength="8.43" lengthAdjust="spacingAndGlyphs" fill="#000" >1</text>
<text x="442.63" y="699.10" font-size="16.3" stroke="#000" stroke-width="0.35" textLength="8.43" lengthAdjust="spacingAndGlyphs" fill="#000" >2</text>
<text x="442.54" y="655.40" font-size="16.3" stroke="#000" stroke-width="0.35" textLength="8.43" lengthAdjust="spacingAndGlyphs" fill="#000" >3</text>
<text x="442.31" y="611.70" font-size="16.3" stroke="#000" stroke-width="0.35" textLength="8.43" lengthAdjust="spacingAndGlyphs" fill="#000" >4</text>
<text x="442.51" y="568.00" font-size="16.3" stroke="#000" stroke-width="0.35" textLength="8.43" lengthAdjust="spacingAndGlyphs" fill="#000" >5</text>
<text x="442.54" y="524.30" font-size="16.3" stroke="#000" stroke-width="0.35" textLength="8.43" lengthAdjust="spacingAndGlyphs" fill="#000" >6</text>
<text x="462.78" y="809.60" font-size="16.3" stroke="#000" stroke-width="0.35" textLength="8.43" lengthAdjust="spacingAndGlyphs" fill="#000" >0</text>
<text x="487.59" y="809.60" font-size="16.3" stroke="#000" stroke-width="0.35" textLength="21.07" lengthAdjust="spacingAndGlyphs" fill="#000" >0.1</text>
<text x="518.65" y="809.60" font-size="16.3" stroke="#000" stroke-width="0.35" textLength="21.07" lengthAdjust="spacingAndGlyphs" fill="#000" >0.2</text>
<text x="549.65" y="809.60" font-size="16.3" stroke="#000" stroke-width="0.35" textLength="21.07" lengthAdjust="spacingAndGlyphs" fill="#000" >0.3</text>
<text x="580.59" y="809.60" font-size="16.3" stroke="#000" stroke-width="0.35" textLength="21.07" lengthAdjust="spacingAndGlyphs" fill="#000" >0.4</text>
<text x="611.74" y="809.60" font-size="16.3" stroke="#000" stroke-width="0.35" textLength="21.07" lengthAdjust="spacingAndGlyphs" fill="#000" >0.5</text>
<text x="642.80" y="809.60" font-size="16.3" stroke="#000" stroke-width="0.35" textLength="21.07" lengthAdjust="spacingAndGlyphs" fill="#000" >0.6</text>
<text x="673.90" y="809.60" font-size="16.3" stroke="#000" stroke-width="0.35" textLength="21.07" lengthAdjust="spacingAndGlyphs" fill="#000" >0.7</text>
<text x="704.90" y="809.60" font-size="16.3" stroke="#000" stroke-width="0.35" textLength="21.07" lengthAdjust="spacingAndGlyphs" fill="#000" >0.8</text>
<text x="735.98" y="809.60" font-size="16.3" stroke="#000" stroke-width="0.35" textLength="21.07" lengthAdjust="spacingAndGlyphs" fill="#000" >0.9</text>
<text x="773.08" y="809.60" font-size="16.3" stroke="#000" stroke-width="0.35" textLength="8.43" lengthAdjust="spacingAndGlyphs" fill="#000" >1</text>
<text x="485.20" y="500.60" font-size="18.7" font-weight="bold" stroke="#000" stroke-width="0.25" textLength="231.22" lengthAdjust="spacingAndGlyphs" fill="#000" >External Validation Dataset</text>
<text x="585.18" y="830.50" font-size="15.0" font-weight="bold" stroke="#000" stroke-width="0.4" textLength="72.80" lengthAdjust="spacingAndGlyphs" fill="#000" >Sensitivity</text>
<path d="M467.00,781.60 C467.83,781.60 468.17,781.55 472.00,781.60 C475.83,781.65 484.40,781.90 490.00,781.90 C495.60,781.90 499.27,781.82 505.60,781.60 C511.93,781.38 520.27,781.03 528.00,780.60 C535.73,780.17 543.10,779.70 552.00,779.00 C560.90,778.30 571.40,777.57 581.40,776.40 C591.40,775.23 602.23,773.57 612.00,772.00 C621.77,770.43 631.38,768.79 640.00,767.00 C648.62,765.21 655.08,763.79 663.75,761.25 C672.42,758.71 683.04,756.25 692.00,751.75 C700.96,747.25 709.08,742.33 717.50,734.25 C725.92,726.17 735.42,715.69 742.50,703.25 C749.58,690.81 756.22,671.01 760.00,659.60 C763.78,648.19 763.10,643.33 765.20,634.80 C767.30,626.27 770.55,620.42 772.60,608.40 C774.65,596.38 776.68,570.32 777.50,562.70" fill="none" stroke="#4169b8" stroke-width="2.5" stroke-linejoin="round" stroke-linecap="round"/>
<path d="M467.00,777.00 L470.86,781.60 L467.00,786.20 L463.14,781.60Z" fill="#4673c6" stroke="#4169b8" stroke-width="0.7"/>
<path d="M472.00,777.00 L475.86,781.60 L472.00,786.20 L468.14,781.60Z" fill="#4673c6" stroke="#4169b8" stroke-width="0.7"/>
<path d="M490.00,777.30 L493.86,781.90 L490.00,786.50 L486.14,781.90Z" fill="#4673c6" stroke="#4169b8" stroke-width="0.7"/>
<path d="M505.60,777.00 L509.46,781.60 L505.60,786.20 L501.74,781.60Z" fill="#4673c6" stroke="#4169b8" stroke-width="0.7"/>
<path d="M528.00,776.00 L531.86,780.60 L528.00,785.20 L524.14,780.60Z" fill="#4673c6" stroke="#4169b8" stroke-width="0.7"/>
<path d="M552.00,774.40 L555.86,779.00 L552.00,783.60 L548.14,779.00Z" fill="#4673c6" stroke="#4169b8" stroke-width="0.7"/>
<path d="M581.40,771.80 L585.26,776.40 L581.40,781.00 L577.54,776.40Z" fill="#4673c6" stroke="#4169b8" stroke-width="0.7"/>
<path d="M612.00,767.40 L615.86,772.00 L612.00,776.60 L608.14,772.00Z" fill="#4673c6" stroke="#4169b8" stroke-width="0.7"/>
<path d="M640.00,762.40 L643.86,767.00 L640.00,771.60 L636.14,767.00Z" fill="#4673c6" stroke="#4169b8" stroke-width="0.7"/>
<path d="M663.75,756.65 L667.61,761.25 L663.75,765.85 L659.89,761.25Z" fill="#4673c6" stroke="#4169b8" stroke-width="0.7"/>
<path d="M692.00,747.15 L695.86,751.75 L692.00,756.35 L688.14,751.75Z" fill="#4673c6" stroke="#4169b8" stroke-width="0.7"/>
<path d="M717.50,729.65 L721.36,734.25 L717.50,738.85 L713.64,734.25Z" fill="#4673c6" stroke="#4169b8" stroke-width="0.7"/>
<path d="M742.50,698.65 L746.36,703.25 L742.50,707.85 L738.64,703.25Z" fill="#4673c6" stroke="#4169b8" stroke-width="0.7"/>
<path d="M760.00,655.00 L763.86,659.60 L760.00,664.20 L756.14,659.60Z" fill="#4673c6" stroke="#4169b8" stroke-width="0.7"/>
<path d="M772.60,603.80 L776.46,608.40 L772.60,613.00 L768.74,608.40Z" fill="#4673c6" stroke="#4169b8" stroke-width="0.7"/>
<path d="M777.50,558.10 L781.36,562.70 L777.50,567.30 L773.64,562.70Z" fill="#4673c6" stroke="#4169b8" stroke-width="0.7"/>
<path d="M466.50,781.60 C466.75,781.60 467.42,781.62 468.00,781.60 C468.58,781.58 469.25,781.53 470.00,781.50 C470.75,781.47 471.58,781.43 472.50,781.40 C473.42,781.37 474.42,781.35 475.50,781.30 C476.58,781.25 477.67,781.18 479.00,781.10 C480.33,781.02 479.93,781.05 483.50,780.80 C487.07,780.55 493.92,780.07 500.40,779.60 C506.88,779.13 513.47,778.87 522.40,778.00 C531.33,777.13 542.07,776.07 554.00,774.40 C565.93,772.73 580.71,770.90 594.00,768.00 C607.29,765.10 620.46,761.88 633.75,757.00 C647.04,752.12 660.08,746.58 673.75,738.75 C687.42,730.92 704.62,719.92 715.75,710.00 C726.88,700.08 732.50,691.88 740.50,679.25 C748.50,666.62 758.71,647.12 763.75,634.25 C768.79,621.38 768.88,611.79 770.75,602.00 C772.62,592.21 774.29,579.92 775.00,575.50" fill="none" stroke="#b2000e" stroke-width="2.6" stroke-linejoin="round" stroke-linecap="round"/>
<rect x="462.60" y="777.70" width="7.8" height="7.8" fill="#d80004" stroke="#b2000e" stroke-width="0.7"/>
<rect x="464.10" y="777.70" width="7.8" height="7.8" fill="#d80004" stroke="#b2000e" stroke-width="0.7"/>
<rect x="466.10" y="777.60" width="7.8" height="7.8" fill="#d80004" stroke="#b2000e" stroke-width="0.7"/>
<rect x="468.60" y="777.50" width="7.8" height="7.8" fill="#d80004" stroke="#b2000e" stroke-width="0.7"/>
<rect x="471.60" y="777.40" width="7.8" height="7.8" fill="#d80004" stroke="#b2000e" stroke-width="0.7"/>
<rect x="475.10" y="777.20" width="7.8" height="7.8" fill="#d80004" stroke="#b2000e" stroke-width="0.7"/>
<rect x="479.60" y="776.90" width="7.8" height="7.8" fill="#d80004" stroke="#b2000e" stroke-width="0.7"/>
<rect x="496.50" y="775.70" width="7.8" height="7.8" fill="#d80004" stroke="#b2000e" stroke-width="0.7"/>
<rect x="518.50" y="774.10" width="7.8" height="7.8" fill="#d80004" stroke="#b2000e" stroke-width="0.7"/>
<rect x="550.10" y="770.50" width="7.8" height="7.8" fill="#d80004" stroke="#b2000e" stroke-width="0.7"/>
<rect x="590.10" y="764.10" width="7.8" height="7.8" fill="#d80004" stroke="#b2000e" stroke-width="0.7"/>
<rect x="629.85" y="753.10" width="7.8" height="7.8" fill="#d80004" stroke="#b2000e" stroke-width="0.7"/>
<rect x="669.85" y="734.85" width="7.8" height="7.8" fill="#d80004" stroke="#b2000e" stroke-width="0.7"/>
<rect x="711.85" y="706.10" width="7.8" height="7.8" fill="#d80004" stroke="#b2000e" stroke-width="0.7"/>
<rect x="736.60" y="675.35" width="7.8" height="7.8" fill="#d80004" stroke="#b2000e" stroke-width="0.7"/>
<rect x="759.85" y="630.35" width="7.8" height="7.8" fill="#d80004" stroke="#b2000e" stroke-width="0.7"/>
<rect x="766.85" y="598.10" width="7.8" height="7.8" fill="#d80004" stroke="#b2000e" stroke-width="0.7"/>
<rect x="771.10" y="571.60" width="7.8" height="7.8" fill="#d80004" stroke="#b2000e" stroke-width="0.7"/>
<line x1="518.3" y1="662.2" x2="552.6" y2="662.2" stroke="#4169b8" stroke-width="2.5"/>
<path d="M535.45,657.60 L539.31,662.20 L535.45,666.80 L531.59,662.20Z" fill="#4673c6" stroke="#4169b8" stroke-width="0.7"/>
<line x1="518.3" y1="684.4" x2="552.6" y2="684.4" stroke="#b2000e" stroke-width="2.6"/>
<rect x="531.35" y="680.30" width="8.2" height="8.2" fill="#d80004" stroke="#b2000e" stroke-width="0.7"/>
<text x="555.42" y="665.70" font-size="14.2" stroke="#000" stroke-width="0.5" textLength="55.09" lengthAdjust="spacingAndGlyphs" fill="#000" >MC-EWS</text>
<text x="555.43" y="688.00" font-size="14.2" stroke="#000" stroke-width="0.5" textLength="39.17" lengthAdjust="spacingAndGlyphs" fill="#000" >NEWS</text>
<g transform="translate(40.2,754.6) rotate(-90)">
<text x="-0.37" y="0.00" font-size="15.4" font-weight="bold" stroke="#000" stroke-width="0.5" textLength="209.59" lengthAdjust="spacingAndGlyphs" fill="#000" >Alerts per day per 10 patients</text>
</g>
<g transform="translate(431.9,754.6) rotate(-90)">
<text x="-0.37" y="0.00" font-size="15.4" font-weight="bold" stroke="#000" stroke-width="0.5" textLength="209.59" lengthAdjust="spacingAndGlyphs" fill="#000" >Alerts per day per 10 patients</text>
</g>
<text x="11.38" y="869.50" font-size="12" font-style="italic" textLength="754.73" lengthAdjust="spacingAndGlyphs" fill="#000" >NEWS: National Early Warning Score; MC-EWS: Mayo Clinic Early Warning Score. All datapoints consider a timeframe of 24</text>
<text x="11.58" y="886.00" font-size="12" font-style="italic" textLength="93.27" lengthAdjust="spacingAndGlyphs" fill="#000" >hours for alerts.</text>
</svg>
</body></html>
